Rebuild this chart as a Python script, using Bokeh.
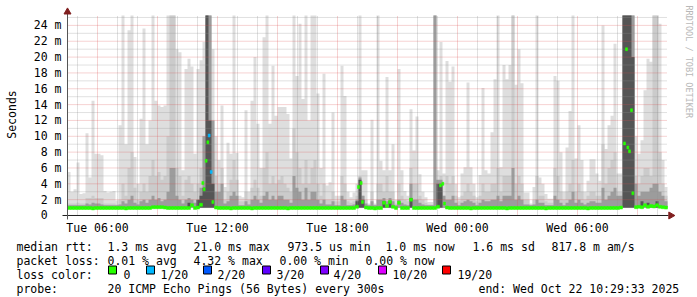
import numpy as np
from datetime import datetime
from bokeh.plotting import figure
from bokeh.models import Range1d
from bokeh.core.properties import value
from bokeh.embed import file_html
from bokeh.resources import INLINE

nan = float("nan")

# ---------------- data ----------------
BIN_START = "2025-10-21T04:30"
BIN_MINUTES = 9
SMOKE_FLOOR = 0.97     # ms, min rtt
Y_CEIL = 25.25         # ms, graph upper limit

# smoke: max ping per bin (lightest band)
MAX = [
    5.5, 3.0, 3.3, 6.7, 2.7, 2.8, 10.4, 4.8, 14.5, 7.8,
    7.8, 7.6, 3.1, 2.9, 3.0, 3.1, 1.9, 11.4, 25.25, 9.0,
    23.4, 25.25, 7.4, 4.0, 12.2, 23.6, 9.0, 12.0, 25.25, 14.5,
    13.9, 13.7, 13.9, 25.25, 25.25, 25.25, 21.0, 20.6, 5.7, 18.5,
    19.8, 18.8, 7.8, 18.5, 19.6, 21.9, 25.25, 25.25, 21.0, 10.0,
    7.0, 13.9, 3.6, 9.2, 7.8, 25.25, 7.9, 2.5, 2.3, 13.3,
    3.0, 14.5, 20.0, 11.6, 6.0, 22.5, 25.25, 11.6, 18.9, 12.6,
    13.7, 13.7, 13.7, 12.8, 7.2, 25.25, 17.6, 24.2, 14.7, 25.25,
    12.0, 25.25, 25.25, 15.4, 6.0, 17.9, 3.8, 4.2, 13.0, 2.5,
    2.5, 18.9, 15.1, 3.0, 2.3, 2.9, 4.0, 25.25, 5.7, 5.7,
    1.5, 12.1, 1.5, 25.25, 6.9, 5.7, 17.5, 5.7, 9.0, 2.0,
    18.5, 5.7, 3.1, 2.5, 13.4, 8.2, 12.5, 5.2, 3.0, 2.3,
    1.7, 1.7, 25.25, 5.7, 21.9, 5.3, 19.5, 16.9, 18.8, 4.0,
    2.3, 5.3, 6.1, 16.8, 6.1, 4.0, 2.3, 5.1, 16.1, 5.7,
    5.3, 10.5, 17.2, 25.25, 6.1, 19.0, 17.2, 19.0, 25.25, 16.5,
    21.0, 16.7, 2.9, 2.9, 1.5, 3.6, 25.25, 4.8, 4.0, 2.7,
    2.1, 2.1, 17.6, 17.0, 8.0, 3.0, 8.6, 13.2, 25.25, 7.2,
    11.4, 7.0, 3.0, 4.4, 7.1, 7.1, 5.3, 4.4, 24.0, 8.4,
    11.4, 12.6, 21.7, 5.3, 5.3, 25.25, 25.25, 25.25, 25.25, 10.0,
    7.8, 9.5, 15.8, 19.8, 19.4, 25.25, 25.25, 24.2, 7.0, 3.6,
]
# second band
MID = [
    1.5, 1.5, 1.5, 1.6, 1.5, 1.5, 2.2, 2.2, 2.5, 2.2,
    2.2, 2.2, 1.5, 1.5, 1.5, 1.5, 1.4, 2.0, 4.0, 2.5,
    6.0, 8.0, 3.5, 2.0, 3.0, 4.0, 3.0, 5.0, 7.0, 5.0,
    5.5, 4.5, 5.0, 10.0, 25.25, 25.25, 6.0, 5.0, 2.5, 4.5,
    5.0, 4.0, 3.0, 4.0, 6.0, 10.0, 25.25, 25.25, 8.0, 5.0,
    4.0, 6.0, 2.0, 3.0, 4.5, 7.0, 4.5, 1.8, 1.8, 3.0,
    2.0, 3.5, 4.5, 3.5, 2.5, 6.0, 8.0, 4.0, 5.0, 4.0,
    4.5, 5.0, 4.0, 3.5, 3.0, 11.0, 8.0, 6.0, 4.0, 7.0,
    4.0, 6.0, 7.0, 4.0, 2.5, 4.0, 2.0, 2.0, 3.0, 1.8,
    1.8, 5.0, 4.0, 1.8, 1.6, 1.8, 2.5, 5.0, 2.5, 2.0,
    1.4, 3.0, 1.4, 4.0, 4.0, 3.0, 5.0, 3.0, 3.0, 1.5,
    4.0, 2.5, 2.0, 1.8, 6.0, 4.0, 4.0, 2.5, 2.0, 1.6,
    1.4, 1.4, 25.25, 3.0, 5.0, 2.5, 5.0, 4.0, 5.0, 2.5,
    1.8, 2.5, 3.0, 4.0, 3.0, 2.5, 1.8, 2.5, 4.0, 3.0,
    3.0, 4.0, 4.0, 6.0, 3.0, 5.0, 5.0, 5.0, 25.25, 4.0,
    5.0, 4.0, 2.0, 2.0, 1.4, 2.0, 5.0, 2.5, 2.5, 1.8,
    1.6, 1.6, 6.0, 5.0, 3.0, 2.0, 3.0, 4.0, 7.0, 3.0,
    4.0, 3.0, 2.0, 2.5, 3.0, 3.0, 2.5, 2.5, 9.0, 4.0,
    6.0, 7.0, 8.0, 3.0, 3.0, 25.25, 25.25, 25.25, 25.25, 5.0,
    4.0, 5.0, 6.0, 6.0, 5.0, 25.25, 25.25, 8.0, 4.0, 2.5,
]
# third band
DARK = [
    1.3, 1.3, 1.3, 1.3, 1.3, 1.3, 1.5, 1.4, 1.6, 1.5,
    1.5, 1.4, 1.3, 1.3, 1.3, 1.3, 1.3, 1.4, 1.8, 1.5,
    2.0, 2.5, 1.6, 1.4, 1.8, 2.0, 1.6, 2.0, 2.5, 2.0,
    2.2, 1.8, 2.0, 3.0, 6.0, 6.0, 2.5, 2.0, 1.5, 2.0,
    2.2, 2.0, 1.6, 2.0, 3.5, 10.0, 25.25, 25.25, 12.0, 3.0,
    3.0, 4.0, 1.5, 1.8, 2.5, 3.0, 2.5, 1.3, 1.3, 1.8,
    1.4, 2.0, 2.5, 2.0, 1.6, 2.5, 3.0, 2.0, 2.5, 2.0,
    2.5, 2.5, 2.0, 2.0, 1.6, 5.0, 3.5, 3.0, 2.0, 3.5,
    2.0, 3.0, 3.0, 2.0, 1.5, 2.0, 1.4, 1.4, 1.8, 1.3,
    1.3, 2.5, 2.0, 1.3, 1.3, 1.4, 2.0, 4.8, 2.5, 1.5,
    1.3, 1.8, 1.3, 2.0, 2.0, 2.2, 1.8, 2.2, 1.8, 1.3,
    2.0, 1.6, 1.4, 1.3, 4.0, 2.0, 2.0, 1.6, 1.4, 1.3,
    1.3, 1.3, 25.25, 4.5, 4.5, 2.5, 2.0, 2.0, 2.5, 1.6,
    1.3, 1.6, 1.8, 2.0, 1.8, 1.6, 1.3, 1.6, 2.0, 1.8,
    1.8, 2.0, 2.0, 2.5, 1.8, 2.5, 2.5, 2.5, 6.0, 2.0,
    2.5, 2.0, 1.4, 1.4, 1.3, 1.4, 2.0, 1.6, 1.6, 1.3,
    1.3, 1.3, 2.5, 2.0, 1.6, 1.3, 1.6, 2.0, 3.0, 1.6,
    2.0, 1.6, 1.4, 1.6, 1.8, 1.8, 1.6, 1.6, 3.5, 2.0,
    2.5, 3.0, 3.5, 2.5, 2.5, 25.25, 25.25, 25.25, 25.25, 4.0,
    2.5, 3.0, 3.0, 3.0, 3.5, 4.0, 4.0, 3.0, 2.5, 1.8,
]
# innermost band
CORE = [
    0.97, 0.97, 0.97, 0.97, 0.97, 0.97, 0.97, 0.97, 0.97, 0.97,
    0.97, 0.97, 0.97, 0.97, 0.97, 0.97, 0.97, 0.97, 0.97, 0.97,
    0.97, 0.97, 0.97, 0.97, 0.97, 0.97, 0.97, 0.97, 0.97, 0.97,
    0.97, 0.97, 0.97, 0.97, 0.97, 0.97, 0.97, 0.97, 0.97, 0.97,
    1.6, 0.97, 0.97, 2.0, 2.5, 3.5, 25.25, 12.0, 4.0, 0.97,
    0.97, 0.97, 0.97, 0.97, 0.97, 0.97, 0.97, 0.97, 0.97, 0.97,
    0.97, 0.97, 0.97, 0.97, 0.97, 0.97, 0.97, 0.97, 0.97, 0.97,
    0.97, 0.97, 0.97, 0.97, 0.97, 0.97, 0.97, 0.97, 0.97, 0.97,
    0.97, 0.97, 0.97, 0.97, 0.97, 0.97, 0.97, 0.97, 0.97, 0.97,
    0.97, 0.97, 0.97, 0.97, 0.97, 0.97, 1.8, 4.5, 2.0, 0.97,
    0.97, 0.97, 0.97, 0.97, 0.97, 1.8, 0.97, 1.8, 0.97, 0.97,
    0.97, 0.97, 0.97, 0.97, 2.2, 0.97, 0.97, 0.97, 0.97, 0.97,
    0.97, 0.97, 0.97, 4.0, 4.0, 0.97, 0.97, 0.97, 0.97, 0.97,
    0.97, 0.97, 0.97, 0.97, 0.97, 0.97, 0.97, 0.97, 0.97, 0.97,
    0.97, 0.97, 0.97, 0.97, 0.97, 0.97, 0.97, 0.97, 0.97, 0.97,
    0.97, 0.97, 0.97, 0.97, 0.97, 0.97, 0.97, 0.97, 0.97, 0.97,
    0.97, 0.97, 0.97, 0.97, 0.97, 0.97, 0.97, 0.97, 0.97, 0.97,
    0.97, 0.97, 0.97, 0.97, 0.97, 0.97, 0.97, 0.97, 0.97, 0.97,
    0.97, 0.97, 0.97, 0.97, 0.97, 25.25, 25.25, 25.25, 20.0, 0.97,
    0.97, 1.8, 0.97, 1.6, 0.97, 0.97, 1.8, 0.97, 0.97, 0.97,
]
# median rtt per bin (loss 0 -> green); nan where the median jumped (see spike lists)
MEDIAN = [
    0.95, 0.95, 0.95, 0.95, 0.95, 0.95, 0.95, 0.95, 0.9, 0.95,
    0.95, 0.95, 0.95, 0.95, 0.95, 0.95, 0.95, 0.95, 0.95, 0.9,
    0.95, 0.95, 0.95, 0.95, 0.95, 0.95, 0.95, 0.95, 1.05, 1.05,
    1.05, 1.05, 1.0, 0.95, 0.95, 0.95, 0.95, 0.95, 0.95, 0.95,
    0.95, 1.3, 0.95, 1.0, 1.35, nan, nan, nan, nan, 1.0,
    0.95, 0.95, 0.95, 0.95, 0.9, 0.95, 0.95, 0.95, 0.95, 0.95,
    0.95, 0.9, 0.95, 0.95, 0.95, 0.95, 0.95, 0.95, 0.95, 0.95,
    0.95, 0.95, 0.95, 0.9, 0.95, 0.95, 0.95, 0.95, 0.95, 0.95,
    0.95, 0.95, 0.95, 0.95, 0.95, 0.95, 0.95, 0.95, 0.95, 0.95,
    0.95, 0.95, 0.95, 0.95, 0.95, 0.95, 1.1, nan, nan, 1.0,
    0.95, 0.95, 0.9, 0.95, 0.95, 1.6, 1.2, 1.7, 1.1, 0.95,
    1.6, 0.95, 0.95, 0.95, 2.0, 0.95, 0.95, 0.95, 0.95, 0.95,
    0.95, 0.95, 0.95, 1.1, nan, nan, 1.0, 0.95, 0.95, 0.95,
    0.95, 0.95, 0.95, 0.95, 0.9, 0.95, 0.95, 0.95, 0.95, 0.95,
    0.95, 0.95, 0.95, 0.95, 0.95, 0.95, 0.9, 0.95, 0.95, 0.95,
    0.95, 0.95, 0.95, 0.95, 0.95, 0.95, 0.95, 0.95, 0.95, 0.9,
    0.95, 0.95, 0.95, 0.95, 0.95, 0.95, 0.95, 0.95, 0.95, 0.95,
    0.95, 0.95, 0.95, 0.9, 0.95, 0.95, 0.95, 0.95, 0.95, 0.95,
    0.95, 0.95, 0.95, 0.95, 1.0, nan, nan, nan, nan, 1.05,
    1.1, 1.05, 1.3, 1.1, 1.2, 1.15, 1.3, 1.1, 1.05, 1.0,
]
SPIKE_TIME = [
    "2025-10-21T11:16", "2025-10-21T11:20", "2025-10-21T11:26", "2025-10-21T11:31",
    "2025-10-21T11:35", "2025-10-21T11:41", "2025-10-21T11:46",
    "2025-10-21T19:03", "2025-10-21T19:11", "2025-10-21T19:15",
    "2025-10-21T23:09", "2025-10-21T23:16", "2025-10-21T23:21",
    "2025-10-22T08:21", "2025-10-22T08:27", "2025-10-22T08:31",
    "2025-10-22T08:36", "2025-10-22T08:42", "2025-10-22T08:46",
]
SPIKE_MEDIAN = [4.1, 3.3, 6.9, 9.25, 10.1, 5.5, 1.7,
                3.6, 4.1, 1.7,
                3.8, 4.0, 1.5,
                9.1, 21.0, 8.6, 8.1, 13.3, 2.8]
SPIKE_LOSS = [0, 0, 0, 0, 1, 1, 0,
              0, 0, 0,
              0, 0, 0,
              0, 0, 0, 0, 0, 0]

LOSS_LABELS = ["0", "1/20", "2/20", "3/20", "4/20", "10/20", "19/20"]
LOSS_COLORS = ["#26ff00", "#00b8ff", "#0059ff", "#5e00ff", "#7e00ff", "#dd00ff", "#ff0000"]

X_TICKS = ["2025-10-21T06:00", "2025-10-21T12:00", "2025-10-21T18:00",
           "2025-10-22T00:00", "2025-10-22T06:00"]
X_LABELS = ["Tue 06:00", "Tue 12:00", "Tue 18:00", "Wed 00:00", "Wed 06:00"]
Y_TICKS = [0, 2, 4, 6, 8, 10, 12, 14, 16, 18, 20, 22, 24]
Y_LABELS = ["0\u00a0\u00a0"] + ["%d m" % v for v in Y_TICKS[1:]]
Y_TITLE = "Seconds"

RTT_LABEL = "median rtt:"
RTT_STATS = ["1.3 ms avg", "21.0 ms max", "973.5 us min", "1.0 ms now", "1.6 ms sd", "817.8 m am/s"]
LOSS_LABEL = "packet loss:"
LOSS_STATS = ["0.01 % avg", "4.32 % max", "0.00 % min", "0.00 % now"]
COLOR_LABEL = "loss color:"
PROBE_LABEL = "probe:"
PROBE_TEXT = "20 ICMP Echo Pings (56 Bytes) every 300s"
END_TEXT = "end: Wed Oct 22 10:29:33 2025"
WATERMARK = "RRDTOOL / TOBI OETIKER"

for arr in (MAX, MID, DARK, CORE, MEDIAN):
    assert len(arr) == 200, len(arr)

# ---------------- helpers ----------------
FONT = "DejaVu Sans Mono"
FS = "11.5px"
W, H = 697, 297


def t64(s):
    return np.datetime64(s, "ms")


step = np.timedelta64(BIN_MINUTES, "m")
edges = t64(BIN_START) + np.arange(len(MAX) + 1) * step
t_end = edges[-1]

# ---------------- figure: frame covers the whole canvas ----------------
# time scale: 3 min per pixel, graph starts at pixel 67; value scale: 7.92 px per ms, 0 at pixel 215
p = figure(width=W, height=H, min_border=0,
           x_axis_location=None, y_axis_location=None,
           x_range=Range1d(datetime(2025, 10, 21, 1, 9), datetime(2025, 10, 22, 12, 0)),
           y_range=Range1d(-10.3535, 27.146),
           output_backend="svg", toolbar_location=None)
p.extra_x_ranges = {"px": Range1d(0, W)}
p.extra_y_ranges = {"px": Range1d(H, 0)}
p.background_fill_color = "white"
p.border_fill_color = "white"
p.outline_line_color = None
p.grid.visible = False
PX = dict(x_range_name="px", y_range_name="px")

# smoke
floor = np.full(len(edges), SMOKE_FLOOR)
for arr, col in ((MAX, "#dedede"), (MID, "#cbcbcb"), (DARK, "#9c9c9c"), (CORE, "#555555")):
    top = np.array(arr + [arr[-1]])
    p.varea_step(x=edges, y1=floor, y2=top, step_mode="after", fill_color=col)

# grid
hours = np.arange(np.datetime64("2025-10-21T05:00"), np.datetime64("2025-10-22T10:30"),
                  np.timedelta64(1, "h"))
hod = hours.astype("datetime64[h]").astype("int64") % 24
hours = hours.astype("datetime64[ms]")
vmin = hours[hod % 3 != 0]
vmaj = hours[hod % 3 == 0]
hmin = np.arange(1, 26, 2)
hmaj = np.arange(2, 25, 2)
GRID_MIN = dict(line_color="#8f8f8f", line_alpha=0.55, line_dash="1 1", line_width=1)
GRID_MAJ = dict(line_color="#de4f4f", line_alpha=0.5, line_dash="1 1", line_width=1)
p.segment(x0=vmin, y0=0, x1=vmin, y1=Y_CEIL, **GRID_MIN)
p.segment(x0=edges[0], y0=hmin, x1=t_end, y1=hmin, **GRID_MIN)
p.segment(x0=vmaj, y0=0, x1=vmaj, y1=Y_CEIL, **GRID_MAJ)
p.segment(x0=edges[0], y0=hmaj, x1=t_end, y1=hmaj, **GRID_MAJ)

# median band
HALF = 0.19
med = np.array(MEDIAN)
p.quad(left=edges[:-1], right=edges[1:], bottom=med - HALF, top=med + HALF,
       fill_color=LOSS_COLORS[0], line_color=LOSS_COLORS[0], line_width=0.5)
st = np.array([t64(s) for s in SPIKE_TIME])
half_w = np.timedelta64(3, "m")
sm = np.array(SPIKE_MEDIAN)
scol = [LOSS_COLORS[k] for k in SPIKE_LOSS]
p.quad(left=st - half_w, right=st + half_w, bottom=sm - HALF, top=sm + HALF,
       fill_color=scol, line_color=scol, line_width=0.5)

# axis lines and arrows
p.segment(x0=[t64("2025-10-21T04:15")], y0=[0], x1=[t64("2025-10-22T10:33")], y1=[0],
          line_color="#1f1f1f", line_width=1)
p.segment(x0=[edges[0]], y0=[-0.5], x1=[edges[0]], y1=[25.5], line_color="#555555", line_width=1)
p.scatter(x=[t64("2025-10-22T10:40")], y=[0], marker="triangle", size=7, angle=-np.pi / 2,
          fill_color="#801f1f", line_color="#801f1f")
p.scatter(x=[edges[0]], y=[25.7], marker="triangle", size=7,
          fill_color="#801f1f", line_color="#801f1f")

# tick labels (placed through the scales at the tick values)
TXT = dict(text_font=value(FONT), text_font_size=FS, text_color="black")
p.text(x=[t64(t) for t in X_TICKS], y=[227] * len(X_TICKS), text=X_LABELS,
       text_align="center", text_baseline="alphabetic", y_range_name="px", **TXT)
p.text(x=[61] * len(Y_TICKS), y=Y_TICKS, text=Y_LABELS,
       text_align="right", text_baseline="middle", x_range_name="px", **TXT)
p.text(x=[11], y=[114], text=[Y_TITLE], angle=np.pi / 2,
       text_align="center", text_baseline="middle", **PX, **TXT)

# watermark
p.text(x=[688.5], y=[5], text=[WATERMARK], angle=-np.pi / 2,
       text_font=value(FONT), text_font_size="8.5px", text_color="#b8b8b8",
       text_align="left", text_baseline="middle", **PX)

# ---------------- legend text below the graph ----------------
ROWS = [246, 260, 274, 288]   # baselines
tx, ty, tt = [], [], []


def put(s, x, y):
    tt.append(s)
    tx.append(x)
    ty.append(y)


put(RTT_LABEL, 16, ROWS[0])
for s, x in zip(RTT_STATS, [107, 193, 287, 385, 472, 551]):
    put(s, x, ROWS[0])
put(LOSS_LABEL, 16, ROWS[1])
for s, x in zip(LOSS_STATS, [107, 193, 279, 365]):
    put(s, x, ROWS[1])
put(COLOR_LABEL, 16, ROWS[2])
sq_x = [112, 150, 207, 266, 324, 382, 446]
lab_x = [123, 160, 217, 276, 333, 392, 457]
for s, x in zip(LOSS_LABELS, lab_x):
    put(s, x, ROWS[2])
put(PROBE_LABEL, 16, ROWS[3])
put(PROBE_TEXT, 107, ROWS[3])
put(END_TEXT, 478, ROWS[3])

p.text(x=tx, y=ty, text=tt, text_align="left", text_baseline="alphabetic", **PX, **TXT)
p.rect(x=sq_x, y=[ROWS[2] - 4.5] * len(sq_x), width=8, height=8,
       fill_color=LOSS_COLORS, line_color="black", line_width=1, **PX)

open("out.html", "w").write(file_html(p, INLINE))
